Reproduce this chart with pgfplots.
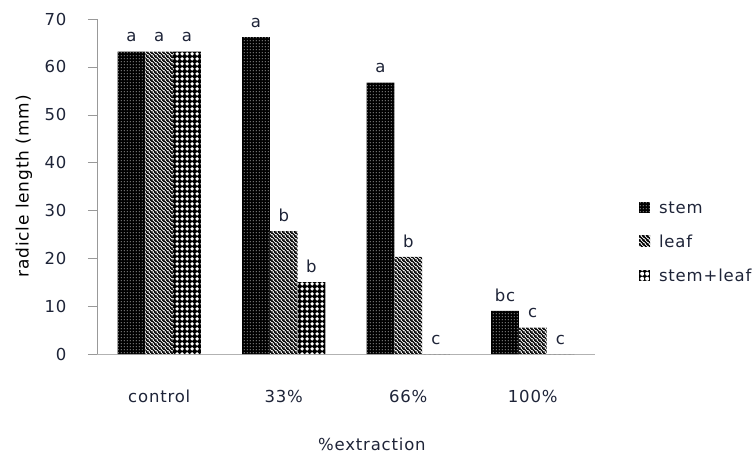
\documentclass[border=0pt]{standalone}
\usepackage{fontspec}
\setmainfont{DejaVu Sans}[LetterSpace=5]
\usepackage{pgfplots}
\pgfplotsset{compat=1.18}
\usetikzlibrary{patterns}
\newcommand\fs{\fontsize{16.5bp}{19bp}\selectfont}
\definecolor{txt}{RGB}{30,36,56}
\pgfdeclarepatternformonly{stemdots}{\pgfqpoint{0bp}{0bp}}{\pgfqpoint{3bp}{3bp}}{\pgfqpoint{3bp}{3bp}}{%
  \pgfpathrectangle{\pgfqpoint{1bp}{1bp}}{\pgfqpoint{1bp}{1bp}}\pgfusepath{fill}}
\pgfdeclarepatternformonly{leaflines}{\pgfqpoint{0bp}{0bp}}{\pgfqpoint{4bp}{4bp}}{\pgfqpoint{4bp}{4bp}}{%
  \pgfsetlinewidth{1.5bp}%
  \pgfpathmoveto{\pgfqpoint{-1bp}{5bp}}\pgfpathlineto{\pgfqpoint{5bp}{-1bp}}%
  \pgfpathmoveto{\pgfqpoint{-1bp}{1bp}}\pgfpathlineto{\pgfqpoint{1bp}{-1bp}}%
  \pgfpathmoveto{\pgfqpoint{3bp}{5bp}}\pgfpathlineto{\pgfqpoint{5bp}{3bp}}%
  \pgfusepath{stroke}}
\pgfdeclarepatternformonly{rings}{\pgfqpoint{0bp}{0bp}}{\pgfqpoint{5bp}{5bp}}{\pgfqpoint{5bp}{5bp}}{%
  \pgfpathcircle{\pgfqpoint{2.5bp}{2.5bp}}{2.3bp}\pgfusepath{fill}}
\pgfplotstableread{
x y label
0 63.2 a
1 66.2 a
2 56.7 a
3 9.0 bc
}\stem
\pgfplotstableread{
x y label
0 63.2 a
1 25.7 b
2 20.3 b
3 5.5 c
}\leaf
\pgfplotstableread{
x y label
0 63.2 a
1 15.0 b
2 0 c
3 0 c
}\stemleaf
\begin{document}
\begin{tikzpicture}
\useasboundingbox (-97bp,-102bp) rectangle (657bp,354bp);
\begin{axis}[
  scale only axis,
  width=498bp, height=335bp,
  ybar=0pt, bar width=27.7bp,
  xmin=-0.5, xmax=3.5, ymin=0, ymax=70,
  xtick={0,1,2,3}, xticklabels={control,33\%,66\%,100\%},
  ytick={0,10,...,70},
  axis x line*=bottom, axis y line*=left,
  axis line style={-, draw=gray!80},
  x axis line style={draw=gray!60},
  xtick style={draw=none},
  ytick style={draw=gray!80},
  tick align=outside, major tick length=9bp,
  /pgf/number format/assume math mode=true,
  tick label style={font=\fs, text=txt},
  xticklabel style={anchor=base, yshift=-39bp},
  yticklabel style={anchor=east, xshift=-18bp},
  ylabel={radicle length (mm)},
  xlabel={\%extraction},
  ylabel style={font=\fontsize{17bp}{19bp}\selectfont, text=black, at={(axis description cs:-0.1466,0.5)}, anchor=center, rotate=0},
  xlabel style={font=\fs, text=txt, at={(axis description cs:0.552,-0.269)}, anchor=center},
  nodes near coords, point meta=explicit symbolic,
  nodes near coords style={font=\fs, text=txt, anchor=south, yshift=6bp},
  legend image code/.code={\fill[#1] (0bp,-5bp) rectangle (11bp,6bp);},
  legend style={draw=none, fill=none, font=\fs, text=txt, at={(rel axis cs:1.082,0.334)}, anchor=west, row sep=16bp, cells={anchor=west},
    /tikz/every odd column/.append style={column sep=7bp}},
]
\addplot[draw=none, fill=black, postaction={pattern=stemdots, pattern color=white}] table[x=x,y=y,meta=label]{\stem};
\addplot[draw=none, fill=white, postaction={pattern=leaflines, pattern color=black}] table[x=x,y=y,meta=label]{\leaf};
\addplot[draw=none, fill=black, postaction={pattern=rings, pattern color=white}] table[x=x,y=y,meta=label]{\stemleaf};
\legend{stem,leaf,stem+leaf}
\end{axis}
\end{tikzpicture}
\end{document}
